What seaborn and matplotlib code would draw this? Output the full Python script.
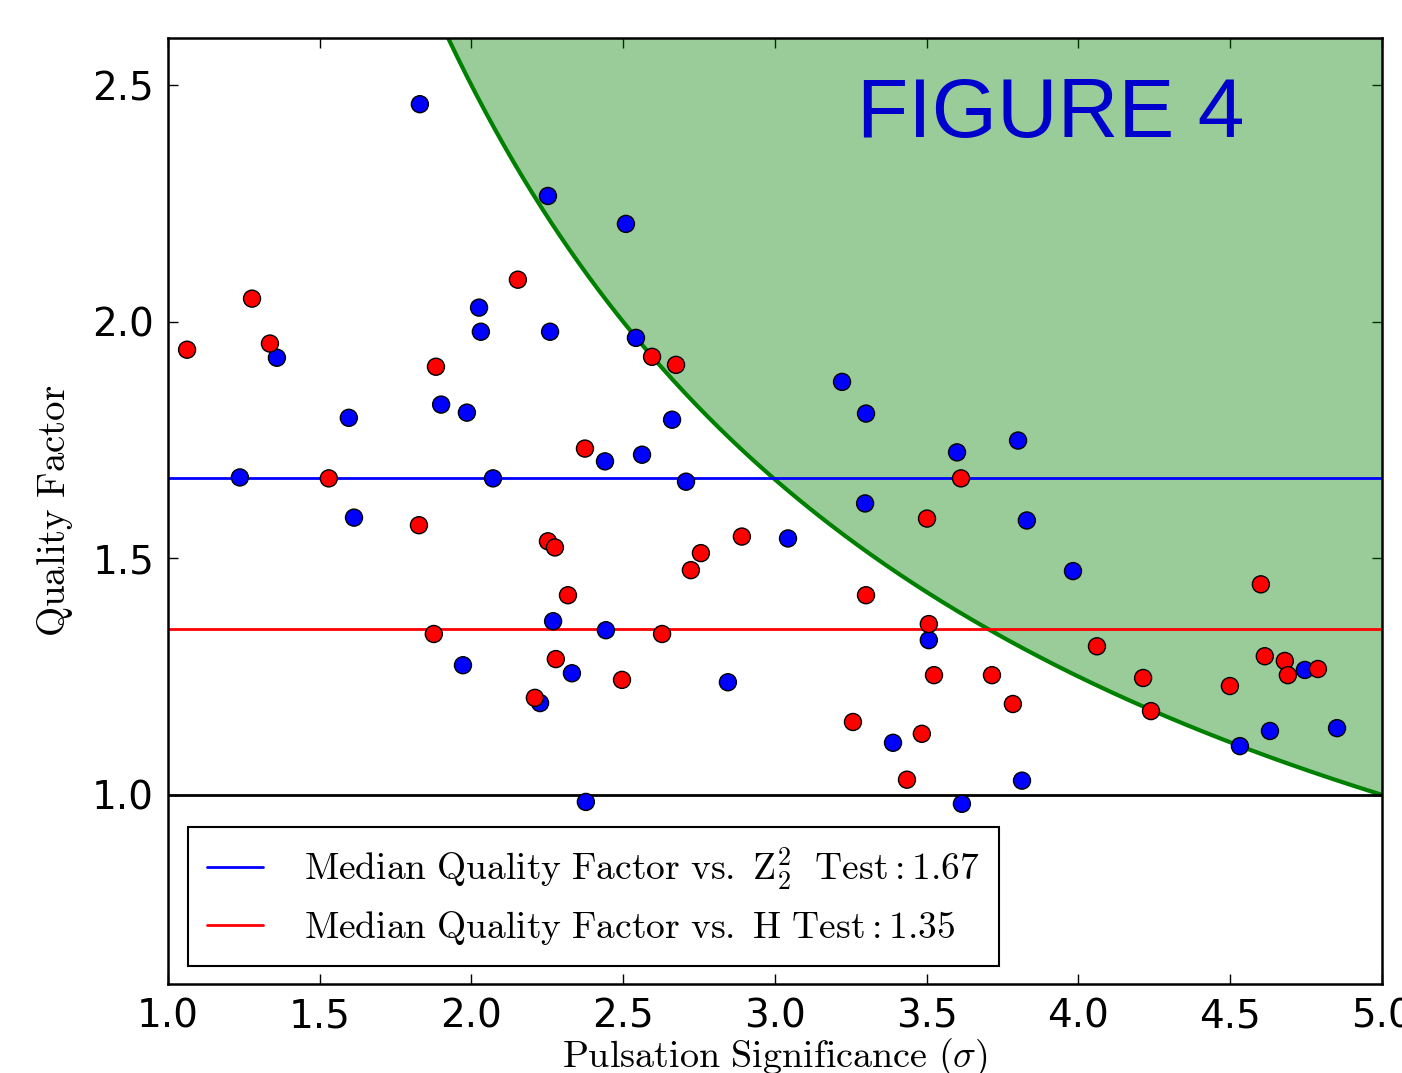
import numpy as np
import pandas as pd
import matplotlib
matplotlib.use("Agg")
import matplotlib.pyplot as plt
import seaborn as sns
from matplotlib.lines import Line2D

# ---- data ----
z_sig = [1.830, 2.252, 2.509, 2.025, 2.031, 2.259, 2.542, 1.359, 1.596, 1.900,
         1.985, 2.661, 2.562, 2.440, 1.237, 2.071, 2.707, 1.613, 3.043, 3.221,
         3.300, 3.297, 3.600, 3.801, 3.830, 3.982, 2.269, 2.443, 3.507, 1.972,
         2.331, 2.226, 2.845, 3.389, 2.377, 3.616, 3.814, 4.532, 4.631, 4.746,
         4.852]
z_qf = [2.460, 2.266, 2.207, 2.030, 1.979, 1.979, 1.966, 1.924, 1.797, 1.825,
        1.808, 1.793, 1.719, 1.705, 1.671, 1.669, 1.662, 1.586, 1.542, 1.873,
        1.806, 1.616, 1.724, 1.749, 1.580, 1.473, 1.367, 1.348, 1.327, 1.274,
        1.257, 1.194, 1.238, 1.110, 0.985, 0.981, 1.030, 1.103, 1.135, 1.264,
        1.141]
h_sig = [1.063, 1.277, 1.336, 1.530, 1.827, 1.883, 1.876, 2.153, 2.374, 2.252,
         2.275, 2.318, 2.278, 2.209, 2.595, 2.674, 2.756, 2.723, 2.891, 2.628,
         2.496, 3.300, 3.501, 3.613, 3.507, 3.524, 3.257, 3.484, 3.435, 3.715,
         3.784, 4.061, 4.213, 4.239, 4.499, 4.601, 4.614, 4.680, 4.690, 4.789]
h_qf = [1.941, 2.049, 1.954, 1.669, 1.570, 1.905, 1.340, 2.089, 1.732, 1.536,
        1.523, 1.422, 1.287, 1.205, 1.926, 1.909, 1.511, 1.475, 1.546, 1.340,
        1.243, 1.422, 1.584, 1.669, 1.361, 1.253, 1.154, 1.129, 1.032, 1.253,
        1.192, 1.314, 1.247, 1.177, 1.230, 1.445, 1.293, 1.283, 1.253, 1.266]
median_z = 1.67
median_h = 1.35
boundary_k = 5.0   # green region: quality factor * significance > 5
x_ticks = [1.0, 1.5, 2.0, 2.5, 3.0, 3.5, 4.0, 4.5, 5.0]
y_ticks = [1.0, 1.5, 2.0, 2.5]
legend_labels = [r'$\mathrm{Median\ Quality\ Factor\ vs.\ Z_2^2\ \ Test: 1.67}$',
                 r'$\mathrm{Median\ Quality\ Factor\ vs.\ H\ Test: 1.35}$']

df = pd.DataFrame({
    "sig": z_sig + h_sig,
    "qf": z_qf + h_qf,
    "test": ["Z"] * len(z_sig) + ["H"] * len(h_sig),
})

sns.set_style("ticks")
plt.rcParams["mathtext.fontset"] = "cm"
plt.rcParams["font.family"] = ["DejaVu Sans"]
plt.rcParams["text.color"] = "black"
plt.rcParams["axes.labelcolor"] = "black"
plt.rcParams["xtick.color"] = "black"
plt.rcParams["ytick.color"] = "black"

fig = plt.figure(figsize=(14.02, 10.73), dpi=100)
ax = fig.add_axes([0.1198, 0.0829, 0.8659, 0.8817])

xmin, xmax, ymin, ymax = 1.0, 5.0, 0.6, 2.6

# green region
xc = np.linspace(boundary_k / ymax, xmax, 400)
yc = boundary_k / xc
ax.fill_between(xc, yc, ymax, color="green", alpha=0.4, linewidth=0, zorder=1)
ax.plot(xc, yc, color="green", lw=3, zorder=2)

# reference lines
ax.axhline(1.0, color="black", lw=2, zorder=2)
ax.axhline(median_z, color="blue", lw=2, zorder=2)
ax.axhline(median_h, color="red", lw=2, zorder=2)

sns.scatterplot(data=df, x="sig", y="qf", hue="test",
                palette={"Z": "blue", "H": "red"}, s=150,
                edgecolor="black", linewidth=1, legend=False, ax=ax, zorder=3)

ax.text(3.27, 2.39, "FIGURE 4", color="#0000cc", fontsize=60.5,
        family=["Liberation Sans", "DejaVu Sans"], ha="left", va="baseline", zorder=4)

ax.set_xlim(xmin, xmax)
ax.set_ylim(ymin, ymax)
ax.set_xticks(x_ticks)
ax.set_yticks(y_ticks)
ax.tick_params(direction="in", length=7, width=1, labelsize=28,
               top=True, right=True, pad=10, colors="black")
for sp in ax.spines.values():
    sp.set_linewidth(1.8)
    sp.set_color("black")

ax.set_xlabel(r'$\mathrm{Pulsation\ Significance\ (\sigma)}$', fontsize=27.5, labelpad=0)
ax.set_ylabel(r'$\mathrm{Quality\ Factor}$', fontsize=28, labelpad=12)

handles = [Line2D([0], [0], color="blue", lw=2),
           Line2D([0], [0], color="red", lw=2)]
leg = ax.legend(handles, legend_labels, loc="lower left",
                bbox_to_anchor=(0.0165, 0.019), fontsize=27, frameon=True,
                fancybox=False, borderpad=0.5, labelspacing=0.45,
                handlelength=1.5, handletextpad=1.1, borderaxespad=0)
leg.get_frame().set_edgecolor("black")
leg.get_frame().set_linewidth(1.5)
leg.get_frame().set_alpha(1)
leg.set_zorder(5)

fig.savefig("out.png", dpi=100)
